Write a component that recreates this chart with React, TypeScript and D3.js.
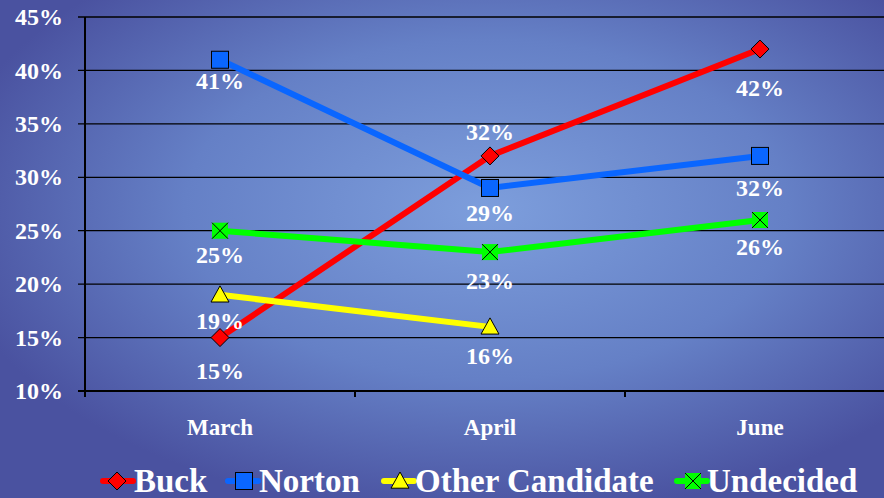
import React from "react";
import * as d3 from "d3";

const months = ["March", "April", "June"];
const buck = [15, 32, 42];
const norton = [41, 29, 32];
const other = [19, 16];
const undecided = [25, 23, 26];
const yTicks = [10, 15, 20, 25, 30, 35, 40, 45];
const seriesNames = ["Buck", "Norton", "Other Candidate", "Undecided"];

const W = 884;
const H = 498;
const FONT = "'Liberation Serif', 'Times New Roman', serif";

export default function App() {
  const x0 = 85;
  const bandW = 270;
  const x = d3.scaleBand<string>().domain(months).range([x0, x0 + bandW * 3]).padding(0);
  const y = d3.scaleLinear().domain([10, 45]).range([391, 17]);
  const cx = (m: string) => (x(m) as number) + x.bandwidth() / 2;

  const line = d3
    .line<number>()
    .x((_, i) => cx(months[i]))
    .y((d) => y(d));

  // label vertical offsets (layout, px)
  const series = [
    { name: seriesNames[0], data: buck, color: "#ff0000", marker: "diamond", off: [33, -24, 39] },
    { name: seriesNames[1], data: norton, color: "#0a66ff", marker: "square", off: [21, 25, 32] },
    { name: seriesNames[2], data: other, color: "#ffff00", marker: "triangle", off: [26, 29] },
    { name: seriesNames[3], data: undecided, color: "#00ff00", marker: "x", off: [24, 29, 27] },
  ];

  const drawMarker = (type: string, px: number, py: number, color: string, key: string) => {
    if (type === "diamond") {
      const s = 9;
      return (
        <path key={key} d={`M${px},${py - s}L${px + s},${py}L${px},${py + s}L${px - s},${py}Z`} fill={color} stroke="#000" strokeWidth={1} />
      );
    }
    if (type === "square") {
      const s = 8.5;
      return <rect key={key} x={px - s} y={py - s} width={2 * s} height={2 * s} fill={color} stroke="#000" strokeWidth={1} />;
    }
    if (type === "triangle") {
      const s = 9;
      return (
        <path key={key} d={`M${px},${py - s}L${px + s},${py + s * 0.8}L${px - s},${py + s * 0.8}Z`} fill={color} stroke="#000" strokeWidth={1} />
      );
    }
    const s = 8;
    return (
      <g key={key}>
        <rect x={px - s} y={py - s} width={2 * s} height={2 * s} fill={color} stroke="none" />
        <path d={`M${px - s},${py - s}L${px + s},${py + s}M${px + s},${py - s}L${px - s},${py + s}`} stroke="#000" strokeWidth={1} />
      </g>
    );
  };

  const legendItems = [
    { lineX: 103, mx: 117, tx: 134 },
    { lineX: 228, mx: 244, tx: 259 },
    { lineX: 384, mx: 400, tx: 415 },
    { lineX: 677, mx: 693, tx: 707 },
  ];
  const legendY = 481;

  return (
    <svg width={W} height={H} style={{ position: "absolute", left: 0, top: 0 }}>
      <defs>
        <radialGradient id="bg" cx="0.55" cy="0.42" r="0.62">
          <stop offset="0" stopColor="#7d9edc" />
          <stop offset="0.55" stopColor="#6580c6" />
          <stop offset="1" stopColor="#4a52a0" />
        </radialGradient>
      </defs>
      <rect x={0} y={0} width={W} height={H} fill="url(#bg)" />

      {yTicks.map((t) => (
        <g key={t}>
          <line x1={78} x2={W} y1={y(t)} y2={y(t)} stroke="#000" strokeWidth={t === 10 ? 2 : 1.3} />
          <text x={63} y={y(t)} dy="0.34em" textAnchor="end" fill="#fff" fontFamily={FONT} fontWeight="bold" fontSize={24}>
            {t}%
          </text>
        </g>
      ))}
      <line x1={x0} x2={x0} y1={y(45)} y2={397} stroke="#000" strokeWidth={2} />
      {[1, 2].map((i) => (
        <line key={i} x1={x0 + bandW * i} x2={x0 + bandW * i} y1={y(10)} y2={397} stroke="#000" strokeWidth={2} />
      ))}

      {months.map((m) => (
        <text key={m} x={cx(m)} y={427} dy="0.34em" textAnchor="middle" fill="#fff" fontFamily={FONT} fontWeight="bold" fontSize={23}>
          {m}
        </text>
      ))}

      {series.map((s) => (
        <path key={s.name} d={line(s.data) || ""} fill="none" stroke={s.color} strokeWidth={6} strokeLinejoin="round" />
      ))}
      {series.map((s) => s.data.map((v, i) => drawMarker(s.marker, cx(months[i]), y(v), s.color, s.name + i)))}
      {series.map((s) =>
        s.data.map((v, i) => (
          <text
            key={s.name + "l" + i}
            x={cx(months[i])}
            y={y(v) + s.off[i]}
            dy="0.34em"
            textAnchor="middle"
            fill="#fff"
            fontFamily={FONT}
            fontWeight="bold"
            fontSize={24}
          >
            {v}%
          </text>
        ))
      )}

      {series.map((s, i) => {
        const li = legendItems[i];
        return (
          <g key={"lg" + s.name}>
            <line x1={li.lineX} x2={li.lineX + 30} y1={legendY} y2={legendY} stroke={s.color} strokeWidth={6} strokeLinecap="round" />
            {drawMarker(s.marker, li.mx, legendY, s.color, "lm" + i)}
            <text x={li.tx} y={legendY} dy="0.34em" fill="#fff" fontFamily={FONT} fontWeight="bold" fontSize={33}>
              {s.name}
            </text>
          </g>
        );
      })}
    </svg>
  );
}
